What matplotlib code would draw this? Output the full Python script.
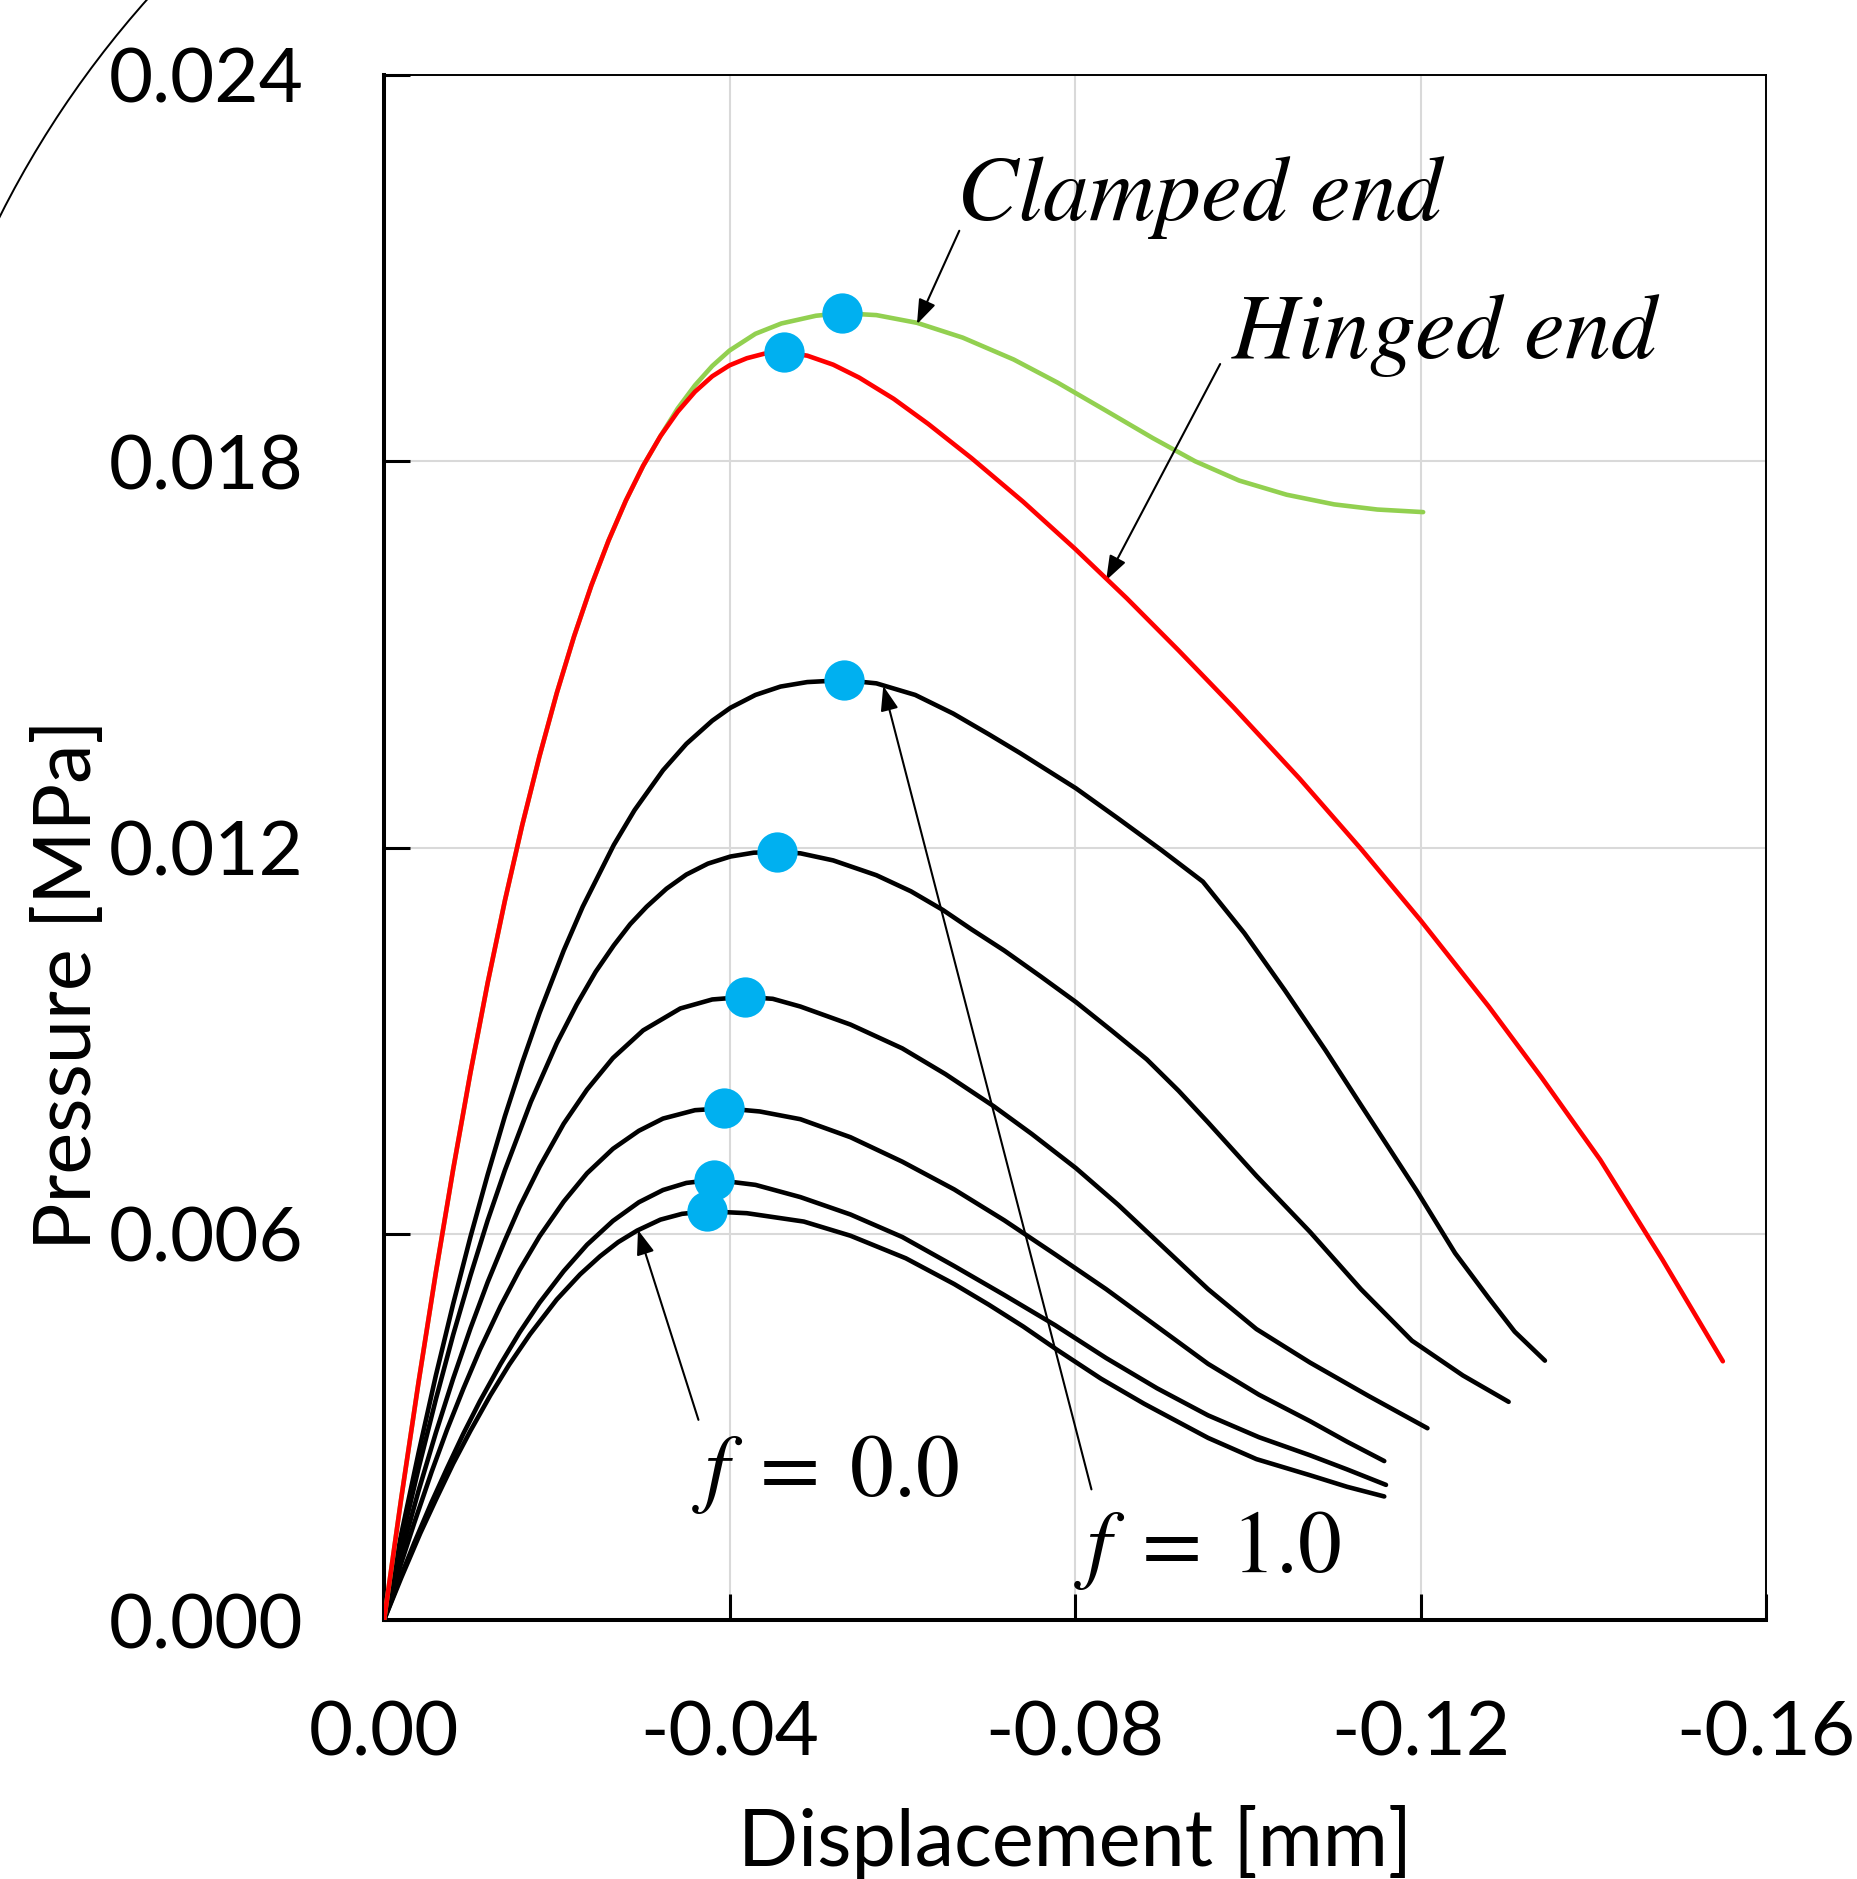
import matplotlib
matplotlib.use('Agg')
import matplotlib.pyplot as plt
from matplotlib.patches import Arc

plt.rcParams['font.family'] = ['Lato', 'DejaVu Sans']
plt.rcParams['mathtext.fontset'] = 'stix'

# curves (displacement [mm], pressure [MPa])
# black curves, f = 0.0 ... 1.0
b1_x = [0, -0.002, -0.0042, -0.006, -0.008, -0.010, -0.0123, -0.0145, -0.0169, -0.020,
        -0.0227, -0.025, -0.0271, -0.0293, -0.032, -0.0345, -0.0374, -0.042, -0.0486,
        -0.054, -0.0604, -0.066, -0.070, -0.074, -0.0779, -0.083, -0.088, -0.0954,
        -0.101, -0.1072, -0.1115, -0.1158]
b1_y = [0, 0.00066, 0.00135, 0.00187, 0.00243, 0.00294, 0.00349, 0.00397, 0.00444, 0.00498,
        0.00537, 0.00565, 0.00587, 0.00605, 0.00622, 0.00631, 0.00635, 0.00632, 0.00619,
        0.00597, 0.00562, 0.00522, 0.0049, 0.00456, 0.0042, 0.00375, 0.00336, 0.00283,
        0.0025, 0.00225, 0.00207, 0.00192]

b2_x = [0, -0.002, -0.0035, -0.0055, -0.0073, -0.0092, -0.0111, -0.0135, -0.0157, -0.018,
        -0.0208, -0.0235, -0.0265, -0.0295, -0.0323, -0.035, -0.0382, -0.043, -0.0482,
        -0.054, -0.060, -0.066, -0.0718, -0.0777, -0.0836, -0.0895, -0.0954, -0.1013,
        -0.1072, -0.1115, -0.116]
b2_y = [0, 0.0007, 0.0012, 0.00183, 0.00236, 0.0029, 0.0034, 0.00398, 0.00447, 0.00493,
        0.00542, 0.00583, 0.0062, 0.00649, 0.00668, 0.00679, 0.00684, 0.00676, 0.00657,
        0.0063, 0.00595, 0.0055, 0.00505, 0.00458, 0.00407, 0.0036, 0.00318, 0.00284,
        0.00256, 0.00234, 0.0021]

b3_x = [0, -0.002, -0.0035, -0.0055, -0.0073, -0.0092, -0.0111, -0.0135, -0.0157, -0.018,
        -0.0208, -0.0235, -0.0265, -0.0295, -0.0323, -0.036, -0.0394, -0.0435, -0.0482,
        -0.054, -0.060, -0.066, -0.0718, -0.0777, -0.0836, -0.0895, -0.0954, -0.1013,
        -0.1072, -0.1115, -0.1158]
b3_y = [0, 0.00089, 0.00151, 0.0023, 0.00296, 0.0036, 0.0042, 0.00488, 0.00544, 0.00596,
        0.0065, 0.00694, 0.00732, 0.0076, 0.00779, 0.00792, 0.00795, 0.0079, 0.00778,
        0.0075, 0.00712, 0.00669, 0.00621, 0.00568, 0.00514, 0.00456, 0.00398, 0.0035,
        0.00309, 0.00277, 0.00247]

b4_x = [0, -0.002, -0.004, -0.006, -0.008, -0.010, -0.012, -0.014, -0.0157, -0.018,
        -0.0208, -0.0235, -0.0265, -0.030, -0.0343, -0.038, -0.0418, -0.045, -0.0482,
        -0.054, -0.060, -0.065, -0.0706, -0.075, -0.0801, -0.085, -0.090, -0.0954,
        -0.101, -0.1072, -0.114, -0.1208]
b4_y = [0, 0.00104, 0.00201, 0.00291, 0.00375, 0.00453, 0.00525, 0.0059, 0.00642, 0.00704,
        0.00771, 0.00824, 0.00873, 0.00916, 0.0095, 0.00964, 0.00968, 0.00965, 0.00953,
        0.00925, 0.00888, 0.00848, 0.00798, 0.00755, 0.00702, 0.00645, 0.00582, 0.00514,
        0.00452, 0.0040, 0.00348, 0.00298]

b5_x = [0, -0.002, -0.004, -0.006, -0.008, -0.010, -0.012, -0.014, -0.017, -0.020,
        -0.0223, -0.0245, -0.0266, -0.0285, -0.0304, -0.0327, -0.035, -0.0375, -0.0401,
        -0.0428, -0.0455, -0.0482, -0.052, -0.057, -0.061, -0.0647, -0.068, -0.0718,
        -0.076, -0.0801, -0.0842, -0.0883, -0.092, -0.0954, -0.101, -0.1072, -0.1131,
        -0.119, -0.1249, -0.1302]
b5_y = [0, 0.00122, 0.00236, 0.00343, 0.00443, 0.00535, 0.00621, 0.00699, 0.00805, 0.00896,
        0.00956, 0.01007, 0.01048, 0.01081, 0.01108, 0.01136, 0.01158, 0.01175, 0.01186,
        0.01192, 0.01193, 0.01191, 0.0118, 0.01157, 0.01132, 0.01103, 0.01073, 0.0104,
        0.0100, 0.0096, 0.00916, 0.00871, 0.00822, 0.00773, 0.0069, 0.00603, 0.00514,
        0.00434, 0.0038, 0.00339]

b6_x = [0, -0.002, -0.004, -0.006, -0.008, -0.010, -0.012, -0.014, -0.016, -0.018,
        -0.0208, -0.023, -0.0266, -0.029, -0.0323, -0.035, -0.038, -0.0401, -0.043,
        -0.0459, -0.049, -0.0533, -0.057, -0.0615, -0.0659, -0.070, -0.0736, -0.0801,
        -0.085, -0.090, -0.0948, -0.0996, -0.1043, -0.109, -0.1131, -0.1165, -0.1196,
        -0.124, -0.1279, -0.1309, -0.1344]
b6_y = [0, 0.00134, 0.0026, 0.0038, 0.00491, 0.00595, 0.00692, 0.00783, 0.00866, 0.00943,
        0.0104, 0.01108, 0.01204, 0.01258, 0.0132, 0.01361, 0.01397, 0.01417, 0.01437,
        0.0145, 0.01457, 0.0146, 0.01455, 0.01437, 0.01408, 0.01376, 0.01347, 0.01292,
        0.01245, 0.01196, 0.01147, 0.01067, 0.00978, 0.00885, 0.0080, 0.0073, 0.00666,
        0.0057, 0.0050, 0.00448, 0.00403]

# hinged end (red) and clamped end (green)
hinged_x = [0, -0.002, -0.004, -0.006, -0.008, -0.010, -0.012, -0.014, -0.016, -0.018,
            -0.020, -0.022, -0.024, -0.026, -0.028, -0.030, -0.032, -0.034, -0.036, -0.038,
            -0.040, -0.042, -0.044, -0.0463, -0.049, -0.052, -0.055, -0.059, -0.063, -0.068,
            -0.074, -0.080, -0.086, -0.092, -0.0984, -0.106, -0.1131, -0.120, -0.1279,
            -0.134, -0.1408, -0.148, -0.155]
hinged_y = [0, 0.0019, 0.0037, 0.0054, 0.0070, 0.0085, 0.0099, 0.01118, 0.01235, 0.01342,
            0.0144, 0.01528, 0.01607, 0.01677, 0.01739, 0.01793, 0.01839, 0.01877, 0.01908,
            0.01932, 0.01949, 0.0196, 0.01967, 0.01969, 0.01964, 0.0195, 0.0193, 0.01897,
            0.01858, 0.01805, 0.01737, 0.01664, 0.01587, 0.01506, 0.01417, 0.01307, 0.01198,
            0.01087, 0.00953, 0.00843, 0.00715, 0.0056, 0.00402]

clamped_x = [0, -0.002, -0.004, -0.006, -0.008, -0.010, -0.012, -0.014, -0.016, -0.018,
             -0.020, -0.022, -0.024, -0.026, -0.028, -0.030, -0.032, -0.034, -0.036, -0.038,
             -0.040, -0.043, -0.046, -0.050, -0.053, -0.057, -0.0617, -0.067, -0.0729,
             -0.078, -0.0834, -0.089, -0.0939, -0.099, -0.1045, -0.110, -0.115, -0.1203]
clamped_y = [0, 0.0019, 0.0037, 0.0054, 0.0070, 0.0085, 0.0099, 0.01118, 0.01235, 0.01342,
             0.0144, 0.01528, 0.01607, 0.01677, 0.01739, 0.01793, 0.01839, 0.01882, 0.01918,
             0.01948, 0.01972, 0.01998, 0.02014, 0.02026, 0.0203, 0.02027, 0.02015, 0.01992,
             0.01958, 0.01922, 0.0188, 0.01836, 0.018, 0.0177, 0.01748, 0.01733, 0.01725,
             0.01721]

# limit points (blue dots)
peak_x = [-0.0374, -0.0382, -0.0394, -0.0418, -0.0455, -0.0533, -0.0463, -0.0530]
peak_y = [0.00635, 0.00684, 0.00795, 0.00968, 0.01193, 0.0146, 0.01969, 0.0203]

x_ticks = [0, -0.04, -0.08, -0.12, -0.16]
x_labels = ['0.00', '-0.04', '-0.08', '-0.12', '-0.16']
y_ticks = [0, 0.006, 0.012, 0.018, 0.024]
y_labels = ['0.000', '0.006', '0.012', '0.018', '0.024']

fig = plt.figure(figsize=(18.58, 18.79), dpi=100)
ax = fig.add_axes([0.2067, 0.1378, 0.7438, 0.8223])

line_kw = dict(lw=3.3, solid_capstyle='round', solid_joinstyle='round')
for bx, by in [(b1_x, b1_y), (b2_x, b2_y), (b3_x, b3_y), (b4_x, b4_y), (b5_x, b5_y), (b6_x, b6_y)]:
    ax.plot(bx, by, color='black', zorder=3, **line_kw)
ax.plot(clamped_x, clamped_y, color='#92D050', zorder=3, **line_kw)
ax.plot(hinged_x, hinged_y, color='#FF0000', zorder=4, **line_kw)
ax.plot(peak_x, peak_y, 'o', color='#00B0F0', markersize=29, markeredgewidth=0, zorder=5)

ax.set_xlim(0, -0.16)
ax.set_ylim(0, 0.024)
ax.set_xticks(x_ticks)
ax.set_xticklabels(x_labels)
ax.set_yticks(y_ticks)
ax.set_yticklabels(y_labels)
ax.tick_params(direction='in', length=19, width=2.2, labelsize=55, color='black')
ax.tick_params(axis='y', pad=58)
ax.tick_params(axis='x', pad=57)
ax.grid(True, color='#d9d9d9', lw=1.5)
ax.set_axisbelow(True)

for side in ['left', 'bottom']:
    ax.spines[side].set_linewidth(2.9)
for side in ['top', 'right']:
    ax.spines[side].set_linewidth(1.4)

ax.set_xlabel('Displacement [mm]', fontsize=57)
ax.set_ylabel('Pressure [MPa]', fontsize=57)
ax.xaxis.set_label_coords(0.5, -0.12)
ax.yaxis.set_label_coords(-0.202, 0.411)

arrow = dict(arrowstyle='-|>,head_length=0.5,head_width=0.18', color='black', lw=1.5,
             mutation_scale=30, shrinkA=0, shrinkB=0)
ax.text(-0.0662, 0.02175, r'$Clamped\ end$', fontsize=66, ha='left', va='baseline')
ax.annotate('', xy=(-0.0617, 0.02013), xytext=(-0.0666, 0.02158), arrowprops=arrow)
ax.text(-0.0981, 0.0196, r'$Hinged\ end$', fontsize=66, ha='left', va='baseline')
ax.annotate('', xy=(-0.0836, 0.01615), xytext=(-0.0968, 0.01951), arrowprops=arrow)
ax.text(-0.0356, 0.00192, r'$f\;=\;0.0$', fontsize=63, ha='left', va='baseline')
ax.annotate('', xy=(-0.0294, 0.00606), xytext=(-0.0364, 0.00311), arrowprops=arrow)
ax.text(-0.0799, 0.00075, r'$f\;=\;1.0$', fontsize=63, ha='left', va='baseline')
ax.annotate('', xy=(-0.0578, 0.01451), xytext=(-0.0819, 0.00203), arrowprops=arrow)

# piece of a cropped circle in the top left corner
fig.patches.append(Arc((0.4828, 0.645), 1.0807, 1.0687, theta1=128, theta2=165,
                       transform=fig.transFigure, color='black', lw=1.4))

fig.savefig('out.png', dpi=100)
